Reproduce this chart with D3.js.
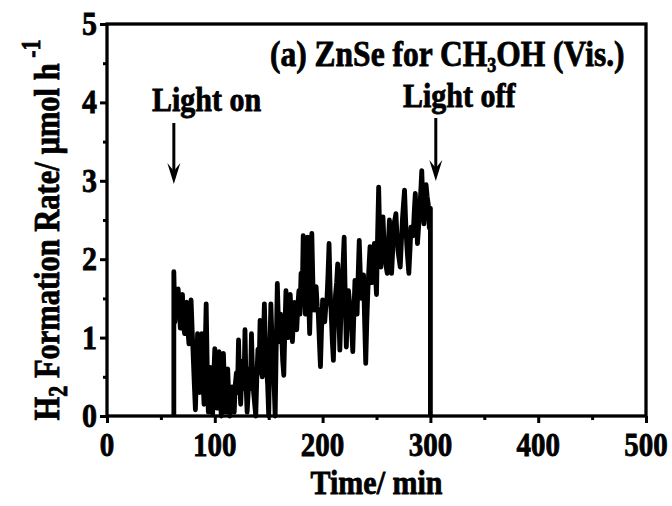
<!DOCTYPE html>
<html><head><meta charset="utf-8">
<script src="https://cdn.jsdelivr.net/npm/d3@7"></script>
<style>
html,body{margin:0;padding:0;background:#fff;}
text{font-family:"Liberation Serif","Times New Roman",serif;font-weight:bold;fill:#000;stroke:#000;stroke-width:0.7px;}
</style></head>
<body><svg id="c" width="672" height="506"></svg>
<script>
// ---- data ----
const times = [62,62,63,64,65,66,67,68,69,70,71,72,73,74,75,76,77,78,79,80,81,82,83,84,85,86,87,88,89,90,91,
  92,93,94,95,96,97,98,99,100,101,102,103,104,105,106,107,108,109,110,111,112,113,114,115,116,117,118,119,120,121,
  122,123,124,125,126,127,128,129,130,131,132,133,134,135,136,137,138,139,140,141,142,143,144,145,146,147,148,149,150,151,
  152,153,154,155,156,157,158,159,160,161,162,163,164,165,166,167,168,169,170,171,172,173,174,175,176,177,178,179,180,181,
  182,183,184,185,186,187,188,189,190,191,192,193,194,195,196,197,198,199,200,201,202,203,204,205,206,207,208,209,210,211,
  212,213,214,215,216,217,218,219,220,221,222,223,224,225,226,227,228,229,230,231,232,233,234,235,236,237,238,239,240,241,
  242,243,244,245,246,247,248,249,250,251,252,253,254,255,256,257,258,259,260,261,262,263,264,265,266,267,268,269,270,271,
  272,273,274,275,276,277,278,279,280,281,282,283,284,285,286,287,288,289,290,291,292,293,294,295,296,297,298,299,300,300];
const rates = [0,1.84,1.20,1.55,1.30,1.62,1.40,1.12,1.50,1.55,1.15,1.05,1.40,1.45,1.10,0.92,1.30,1.48,1.10,0.75,0.40,
  0.08,0.50,1.05,0.60,0.30,0.65,1.05,0.50,0.15,0.80,1.43,0.60,0.05,0.35,0.62,0.30,0.02,0.50,0.86,0.40,
  0.10,0.55,0.82,0.30,0.00,0.45,0.80,0.35,0.05,0.30,0.60,0.20,0.00,0.25,0.37,0.10,0.05,0.40,0.55,0.30,
  0.97,0.45,0.15,0.50,0.70,0.35,1.10,0.40,0.05,0.30,0.60,0.35,1.05,0.55,0.30,0.15,0.00,0.50,0.85,0.55,
  1.22,0.80,0.50,0.90,1.43,0.90,0.60,0.40,0.00,0.80,1.43,1.00,0.70,0.40,0.00,0.90,1.69,1.20,0.95,1.30,
  1.05,0.70,0.52,1.10,1.60,1.20,1.00,1.35,1.55,1.20,0.95,1.25,1.45,1.15,1.10,1.40,1.60,1.30,1.82,1.45,
  2.30,1.60,1.30,1.75,2.28,1.50,1.05,1.60,2.33,1.70,1.35,1.50,1.65,1.40,1.30,0.95,0.63,1.10,1.48,1.35,
  1.20,1.40,1.48,1.80,2.20,1.60,1.30,0.95,0.71,1.20,1.55,1.70,1.94,1.30,0.84,1.30,1.75,1.95,2.28,1.50,
  0.88,1.30,1.60,1.45,1.40,1.10,0.82,1.30,1.73,1.50,1.30,1.80,2.24,1.80,1.50,1.65,1.80,1.20,0.67,1.20,
  1.60,1.90,2.16,1.90,1.70,1.95,2.20,1.80,1.55,2.30,2.92,2.30,1.90,2.20,2.54,2.20,2.00,1.90,1.82,2.20,
  2.50,2.10,1.82,2.10,2.45,2.50,2.58,2.30,2.10,2.00,1.90,2.20,2.50,2.70,2.88,2.50,2.20,2.00,1.82,2.10,
  2.41,2.35,2.30,2.60,2.84,2.50,2.20,2.40,2.60,2.85,3.13,2.70,2.45,2.70,2.95,2.80,2.70,2.40,2.65,0];
const xTicks = [0,100,200,300,400,500];
const xMinor = [50,150,250,350,450];
const yTicks = [0,1,2,3,4,5];
const yMinor = [0.5,1.5,2.5,3.5,4.5];
const annotations = [
  {label:"Light on", t:62, textX:152, textY:111, arrowTop:123, arrowTip:184},
  {label:"Light off", t:305, textX:403, textY:107, arrowTop:118, arrowTip:181}
];

// ---- layout ----
const W=672,H=506, m={l:107,r:26,t:24,b:90};
const K=1.15; // vertical glyph stretch
const svg=d3.select("#c");
const x=d3.scaleLinear().domain([0,500]).range([m.l,W-m.r]);
const y=d3.scaleLinear().domain([0,5]).range([H-m.b,m.t]);

// data line
const line=d3.line().x((d,i)=>x(times[i])).y(d=>y(d));
svg.append("path").datum(rates).attr("d",line)
  .attr("fill","none").attr("stroke","#000").attr("stroke-width",4.8).attr("stroke-linejoin","round");

// axes
function styleAxis(g){g.select(".domain").remove();g.selectAll("line").attr("stroke","#000").attr("stroke-width",3);g.selectAll("text").remove();}
svg.append("g").attr("transform",`translate(0,${y(0)})`).call(d3.axisBottom(x).tickValues(xTicks).tickSize(7)).call(styleAxis);
svg.append("g").attr("transform",`translate(0,${y(0)})`).call(d3.axisBottom(x).tickValues(xMinor).tickSize(4)).call(styleAxis);
svg.append("g").attr("transform",`translate(${x(0)},0)`).call(d3.axisLeft(y).tickValues(yTicks).tickSize(7)).call(styleAxis);
svg.append("g").attr("transform",`translate(${x(0)},0)`).call(d3.axisLeft(y).tickValues(yMinor).tickSize(4)).call(styleAxis);
svg.append("rect").attr("x",x(0)).attr("y",y(5)).attr("width",x(500)-x(0)).attr("height",y(0)-y(5))
  .attr("fill","none").attr("stroke","#000").attr("stroke-width",3.3);

// tick labels
svg.selectAll(".xl").data(xTicks).enter().append("text")
  .attr("transform",d=>`translate(${x(d)},${y(0)+40}) scale(1,${K})`)
  .attr("text-anchor","middle").attr("font-size",29).text(d=>d);
svg.selectAll(".yl").data(yTicks).enter().append("text")
  .attr("transform",d=>`translate(${x(0)-10},${y(d)+11}) scale(1,${K})`)
  .attr("text-anchor","end").attr("font-size",30).text(d=>d);

// axis titles
svg.append("text").attr("transform",`translate(${(x(0)+x(500))/2},${494}) scale(1,${K})`)
  .attr("text-anchor","middle").attr("font-size",30).text("Time/ min");
const yt=svg.append("text").attr("transform",`translate(59,230) rotate(-90) scale(1,1.2)`)
  .attr("text-anchor","middle").attr("font-size",30.5);
yt.append("tspan").text("H");
yt.append("tspan").attr("font-size",22).attr("dy",7).text("2");
yt.append("tspan").attr("dy",-7).text(" Formation Rate/ µmol h");
yt.append("tspan").attr("font-size",22).attr("dy",-16).text(" -1");

// panel title
const tt=svg.append("text").attr("transform",`translate(270,66) scale(1,${K})`).attr("font-size",31.5);
tt.append("tspan").text("(a) ZnSe for CH");
tt.append("tspan").attr("font-size",18).attr("dy",5).text("3");
tt.append("tspan").attr("dy",-5).text("OH (Vis.)");

// annotations
annotations.forEach(a=>{
  svg.append("text").attr("transform",`translate(${a.textX},${a.textY}) scale(1,${K})`).attr("font-size",30).text(a.label);
  const ax=x(a.t);
  svg.append("line").attr("x1",ax).attr("x2",ax).attr("y1",a.arrowTop).attr("y2",a.arrowTip-10)
    .attr("stroke","#000").attr("stroke-width",3);
  svg.append("path").attr("d",`M${ax-6.5},${a.arrowTip-21} L${ax},${a.arrowTip} L${ax+6.5},${a.arrowTip-21} L${ax},${a.arrowTip-13} Z`).attr("fill","#000");
});
</script></body></html>
